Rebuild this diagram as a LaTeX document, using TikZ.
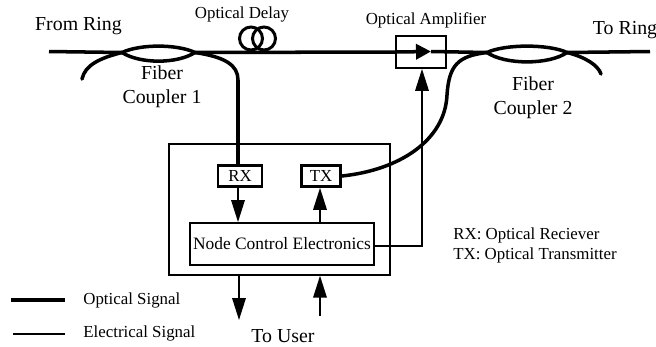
\documentclass[tikz,border=0pt]{standalone}
\usepackage{fontspec}
\setmainfont{Liberation Serif}
\usetikzlibrary{arrows.meta, positioning}
\tikzset{
  biglabel/.style={font=\fontsize{11.3}{13.5}\selectfont, align=center, inner sep=0pt},
  smalllabel/.style={font=\fontsize{9.6}{11.5}\selectfont, align=left, inner sep=0pt},
  optical/.style={line width=2pt},
  electrical/.style={line width=1pt},
  signal/.style={electrical, -{Triangle[length=0.44cm,width=0.27cm]}},
  unit/.style={draw, line width=1.5pt, minimum height=0.42cm, inner sep=0pt, font=\fontsize{9.6}{11.5}\selectfont},
  loopring/.style={draw, circle, line width=1.7pt, minimum size=0.46cm, inner sep=0pt}
}
\begin{document}
\begin{tikzpicture}[x=0.02cm, y=-0.02cm, >=stealth]
                    \useasboundingbox (0, 0) rectangle (656, 346);

                    % Boxes
                    \node[draw, line width=0.8pt, minimum width=4.42cm, minimum height=2.62cm, inner sep=0pt] (node) at (279.5, 209.5) {};
                    \node[unit, minimum width=0.88cm] (rx) at (240, 176) {RX};
                    \node[unit, minimum width=0.78cm] (tx) at (321, 176) {TX};
                    \node[draw, line width=1.1pt, minimum width=3.68cm, minimum height=0.84cm, inner sep=0pt, font=\fontsize{9.9}{12}\selectfont] (ctrl) at (282, 244) {Node Control Electronics};
                    \node[draw, line width=1pt, minimum width=1cm, minimum height=0.64cm, inner sep=0pt] (amp) at (421, 52) {};

                    % Fibre points
                    \coordinate (ringin) at (49, 51.5);
                    \coordinate (c1w) at (122, 52.5);
                    \coordinate (c1e) at (195, 52.5);
                    \coordinate (c1tail) at (82, 79);
                    \coordinate (c1bend) at (238, 80);
                    \coordinate (amptip) at (431, 51.5);
                    \coordinate (c2w) at (487, 52.5);
                    \coordinate (c2e) at (567, 52.5);
                    \coordinate (c2tail) at (601, 74);
                    \coordinate (c2bend) at (447, 95);
                    \coordinate (ringout) at (650, 51.5);

                    % Delay loops
                    \node[loopring] (loopa) at (251, 38.5) {};
                    \node[loopring] (loopb) at (264, 38.5) {};

                    % Optical path
                    \draw[optical] (ringin) -- (c1w);
                    \draw[optical] (c1w) .. controls (140, 44) and (177, 44) .. (c1e);
                    \draw[optical] (c1w) .. controls (140, 64) and (177, 64) .. (c1e);
                    \draw[optical] (c1e) -- (amp.west);
                    \draw[optical, -{Triangle[length=0.3cm,width=0.3cm]}] (amp.west) -- (amptip);
                    \draw[optical] (amptip) -- (c2w);
                    \draw[optical] (c2w) .. controls (505, 44) and (549, 44) .. (c2e);
                    \draw[optical] (c2w) .. controls (505, 65) and (549, 65) .. (c2e);
                    \draw[optical] (c2e) -- (ringout);

                    % Fibre tails
                    \draw[optical, line cap=round] (c1w) .. controls (100, 58) and (85, 65) .. (c1tail);
                    \draw[optical] (c1e) .. controls (225, 57) and (238, 65) .. (c1bend) -- (rx.north -| c1bend);
                    \draw[optical, line cap=round] (c2e) .. controls (585, 57) and (598, 65) .. (c2tail);
                    \draw[optical] (c2w) .. controls (458, 56) and (449, 65) .. (c2bend);
                    \draw[optical] (c2bend) .. controls (445, 140) and (400, 170) .. (tx.east);

                    % Electrical path
                    \coordinate (rxdown) at (rx.south -| c1bend);
                    \coordinate (ctrlturn) at (422, 246);
                    \coordinate (userout) at (239, 320);
                    \coordinate (userin) at (320, 316);
                    \draw[signal] (rxdown) -- (rxdown |- ctrl.north);
                    \draw[signal] (ctrl.north -| userin) -- (tx.south -| userin);
                    \draw[signal] (ctrl.east |- ctrlturn) -- (ctrlturn) -- (amp.south -| ctrlturn);
                    \draw[signal] (node.south -| userout) -- (userout);
                    \draw[signal] (userin) -- (node.south -| userin);

                    % Legend
                    \coordinate (opta) at (11, 300);
                    \coordinate (optb) at (65, 300);
                    \coordinate (elea) at (13, 334);
                    \coordinate (eleb) at (65, 334);
                    \draw[optical] (opta) -- (optb);
                    \draw[electrical] (elea) -- (eleb);

                    % Labels
                    \node[biglabel] (fromring) at (78.5, 26) {From Ring};
                    \node[biglabel] (toring) at (625, 30) {To Ring};
                    \node[biglabel] (coupler1) at (162, 87) {Fiber\\Coupler 1};
                    \node[biglabel] (coupler2) at (533, 98) {Fiber\\Coupler 2};
                    \node[biglabel] (touser) at (283, 336) {To User};
                    \node[smalllabel] (delay) at (242, 14) {Optical Delay};
                    \node[smalllabel] (amplabel) at (426, 20) {Optical Amplifier};
                    \node[smalllabel, anchor=west] (optlabel) at (83, 300) {Optical Signal};
                    \node[smalllabel, anchor=west] (elelabel) at (83, 333) {Electrical Signal};
                    \node[smalllabel, anchor=west] (rxlabel) at (453, 235) {RX: Optical Reciever};
                    \node[smalllabel, anchor=west] (txlabel) at (453, 255) {TX: Optical Transmitter};
                \end{tikzpicture}
\end{document}
